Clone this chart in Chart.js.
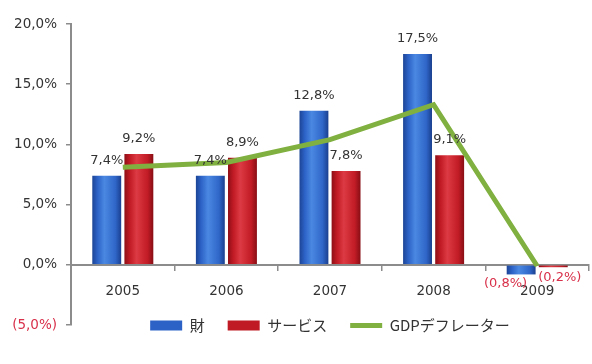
<!DOCTYPE html>
<html lang="ja">

<head>
    <meta charset="UTF-8">
    <script src="https://cdn.jsdelivr.net/npm/chart.js"></script>
    <title>財・サービス・GDPデフレーター</title>
    <style>
        html, body { margin: 0; padding: 0; background: #fff; }
    </style>
</head>

<body>
    <canvas id="chart" width="592" height="364"></canvas>
</body>

<script>
    // yearly change rates (%)
    const years = ['2005', '2006', '2007', '2008', '2009'];
    const goods = [7.4, 7.4, 12.8, 17.5, -0.8];
    const services = [9.2, 8.9, 7.8, 9.1, -0.2];
    const deflator = [8.1, 8.5, 10.4, 13.3, -0.1];
    const yTicks = [-5, 0, 5, 10, 15, 20];

    const GREEN = '#80b040';
    const NEG_RED = '#d8304a';
    const TEXT = '#333333';
    const AXIS = '#8c8c8c';

    // horizontal shading so the bars look rounded
    const shades = [
        ['#1c4496', '#2c62c6', '#4a88e2', '#2f66c8', '#1a3f8e'],
        ['#8e0f16', '#c01a24', '#dc3a44', '#c21c26', '#880e14']
    ];

    Chart.defaults.font.family = '"DejaVu Sans", Verdana, sans-serif';
    Chart.defaults.font.size = 13.5;
    Chart.defaults.color = TEXT;

    function fmt(v) {
        let s = Math.abs(v).toFixed(1).replace('.', ',') + '%';
        return v < 0 ? '(' + s + ')' : s;
    }

    const barShading = {
        id: 'barShading',
        beforeDatasetsDraw(chart) {
            let ctx = chart.ctx;
            [0, 1].forEach(function (di) {
                let st = shades[di];
                chart.getDatasetMeta(di).data.forEach(function (bar) {
                    let g = ctx.createLinearGradient(bar.x - bar.width / 2, 0, bar.x + bar.width / 2, 0);
                    g.addColorStop(0, st[0]);
                    g.addColorStop(0.18, st[1]);
                    g.addColorStop(0.42, st[2]);
                    g.addColorStop(0.8, st[3]);
                    g.addColorStop(1, st[4]);
                    bar.options = Object.assign({}, bar.options, { backgroundColor: g });
                });
            });
        }
    };

    // value labels over / under each bar, drawn on top of everything
    const valueLabels = {
        id: 'valueLabels',
        afterDatasetsDraw(chart) {
            let ctx = chart.ctx;
            ctx.save();
            ctx.font = '13px "DejaVu Sans"';
            [0, 1].forEach(function (di) {
                let values = chart.data.datasets[di].data;
                chart.getDatasetMeta(di).data.forEach(function (bar, i) {
                    let v = values[i];
                    if (v >= 0) {
                        ctx.fillStyle = TEXT;
                        ctx.textAlign = 'center';
                        ctx.textBaseline = 'alphabetic';
                        ctx.fillText(fmt(v), bar.x, bar.y - 12);
                    } else {
                        ctx.fillStyle = NEG_RED;
                        ctx.textBaseline = 'middle';
                        if (di === 0) {
                            ctx.textAlign = 'right';
                            ctx.fillText(fmt(v), bar.x + 6, bar.y + 9);
                        } else {
                            ctx.textAlign = 'left';
                            ctx.fillText(fmt(v), bar.x - 15, bar.y + 10);
                        }
                    }
                });
            });
            ctx.restore();
        }
    };

    // legend sits level with the bottom of the value axis
    const legendShift = {
        id: 'legendShift',
        afterLayout(chart) {
            chart.legend.top -= 30;
            chart.legend.bottom -= 30;
        }
    };

    new Chart(document.getElementById('chart'), {
        data: {
            labels: years,
            datasets: [
                {
                    type: 'bar',
                    label: '財',
                    data: goods,
                    backgroundColor: '#2c62c6',
                    borderWidth: 0,
                    categoryPercentage: 0.62,
                    barPercentage: 0.9,
                    order: 1
                },
                {
                    type: 'bar',
                    label: 'サービス',
                    data: services,
                    backgroundColor: '#c01a24',
                    borderWidth: 0,
                    categoryPercentage: 0.62,
                    barPercentage: 0.9,
                    order: 1
                },
                {
                    type: 'line',
                    label: 'GDPデフレーター',
                    data: deflator,
                    borderColor: GREEN,
                    borderWidth: 5,
                    pointRadius: 0,
                    pointHoverRadius: 0,
                    tension: 0,
                    order: 0
                }
            ]
        },
        options: {
            responsive: false,
            devicePixelRatio: 1,
            animation: false,
            layout: {
                padding: { top: 24, right: 3, left: 0, bottom: 0 }
            },
            scales: {
                x: {
                    type: 'category',
                    position: { y: 0 },
                    offset: true,
                    grid: {
                        offset: true,
                        drawOnChartArea: false,
                        tickLength: 5,
                        color: AXIS,
                        lineWidth: 1.5
                    },
                    border: { color: AXIS, width: 2 },
                    ticks: { padding: 14, color: TEXT }
                },
                y: {
                    min: -5,
                    max: 20,
                    afterBuildTicks(scale) {
                        scale.ticks = yTicks.map(function (v) { return { value: v }; });
                    },
                    afterFit(scale) {
                        scale.width = 71;
                    },
                    grid: {
                        drawOnChartArea: false,
                        tickLength: 5,
                        color: AXIS,
                        lineWidth: 1.5
                    },
                    border: { color: AXIS, width: 2 },
                    ticks: {
                        padding: 9,
                        callback: function (v) { return fmt(v); },
                        color: function (c) { return c.tick && c.tick.value < 0 ? NEG_RED : TEXT; }
                    }
                }
            },
            plugins: {
                tooltip: { enabled: false },
                legend: {
                    position: 'bottom',
                    fullSize: false,
                    maxHeight: 39,
                    labels: {
                        usePointStyle: true,
                        pointStyleWidth: 32,
                        boxHeight: 10,
                        padding: 23,
                        color: TEXT,
                        font: { family: '"Noto Sans CJK JP"', size: 15 },
                        generateLabels(chart) {
                            let items = Chart.defaults.plugins.legend.labels.generateLabels(chart);
                            items.sort(function (a, b) { return a.datasetIndex - b.datasetIndex; });
                            items.forEach(function (it) {
                                if (it.datasetIndex === 2) {
                                    it.pointStyle = 'line';
                                    it.strokeStyle = GREEN;
                                    it.lineWidth = 5;
                                } else {
                                    it.pointStyle = 'rect';
                                    it.lineWidth = 0;
                                }
                            });
                            return items;
                        }
                    }
                }
            }
        },
        plugins: [barShading, valueLabels, legendShift]
    });
</script>

</html>
